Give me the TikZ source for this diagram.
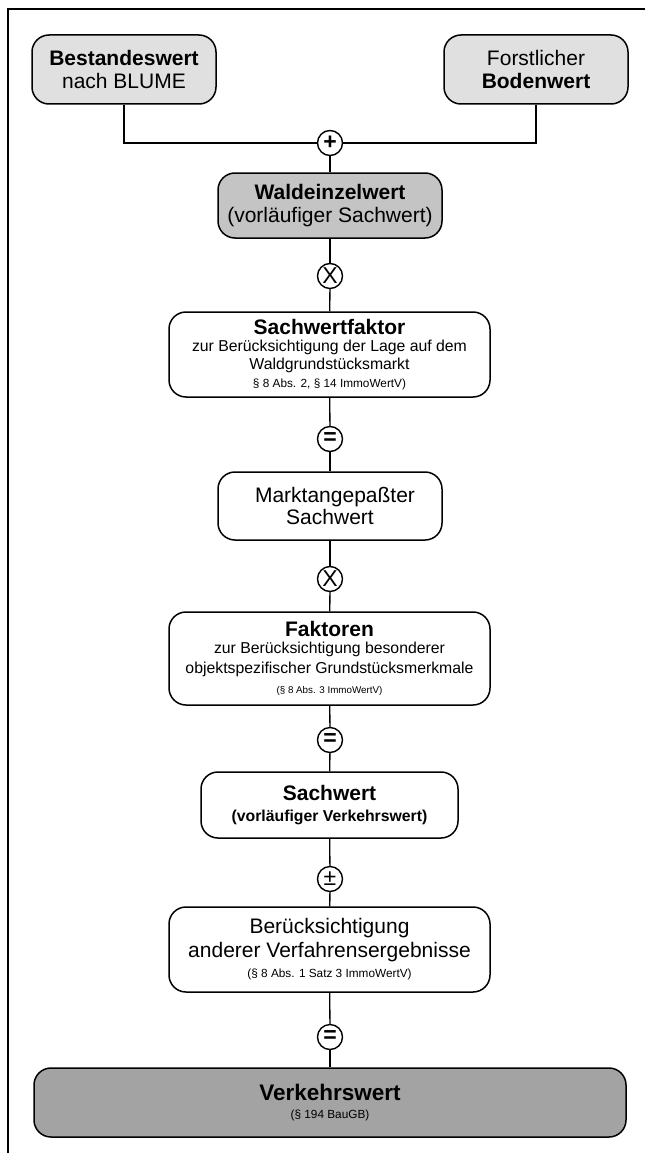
\documentclass[tikz,border=0pt]{standalone}
\usepackage{fontspec}
\setmainfont{Liberation Sans}
\newcommand\fT{\fontsize{21}{24}\selectfont}
\newcommand\fS{\fontsize{15.8}{17.5}\selectfont}
\newcommand\fX{\fontsize{11.8}{14}\selectfont}
\newcommand\fY{\fontsize{9.8}{12}\selectfont}
\definecolor{gLight}{HTML}{E0E0E0}
\definecolor{gMid}{HTML}{C4C4C4}
\definecolor{gDark}{HTML}{A3A3A3}
\tikzset{
  box/.style={draw, line width=1.5pt, rounded corners=17pt, align=center, inner sep=0pt, fill=white},
  opc/.style={draw, circle, line width=1.4pt, fill=white, inner sep=0pt, minimum size=25pt, font=\fontsize{23}{23}\selectfont\bfseries},
  conn/.style={line width=1.3pt},
}
\begin{document}
\begin{tikzpicture}[x=1pt,y=-1pt]
\useasboundingbox (0,0) rectangle (645,1153);
\draw[line width=1.2pt] (645,9) -- (8,9) -- (8,1153);

\node[box, fill=gLight, minimum width=184pt, minimum height=69pt, font=\fT] (b1) at (124,69.5)
  {{\bfseries Bestandeswert}\\[-1.5pt]nach BLUME};
\node[box, fill=gLight, minimum width=184pt, minimum height=69pt, font=\fT] (b2) at (536,69.5)
  {Forstlicher\\[-1.5pt]{\bfseries Bodenwert}};
\node[opc] (o1) at (330,143) {+};
\node[box, fill=gMid, minimum width=224pt, minimum height=65pt, font=\fT] (b3) at (330,205.5)
  {{\bfseries Waldeinzelwert}\\[-1.5pt](vorläufiger Sachwert)};
\node[opc] (o2) at (330,276) {\mdseries X};
\node[box, minimum width=321pt, minimum height=85pt, font=\fS] (b4) at (329.5,354.5)
  {{\fT\bfseries Sachwertfaktor}\\[0pt]zur Berücksichtigung der Lage auf dem\\[0.5pt]Waldgrundstücksmarkt\\[0pt]{\fX § 8 Abs. 2, § 14 ImmoWertV)}};
\node[opc] (o3) at (330,439) {=};
\node[box, minimum width=224pt, minimum height=68pt, font=\fT] (b5) at (330,506)
  {\hspace*{10pt}Marktangepaßter\\[-1.5pt]Sachwert};
\node[opc] (o4) at (330,579) {\mdseries X};
\node[box, minimum width=321pt, minimum height=93pt, font=\fS] (b6) at (329.5,658.5)
  {{\fT\bfseries Faktoren}\\[0pt]zur Berücksichtigung besonderer\\[2pt]objektspezifischer Grundstücksmerkmale\\[3pt]{\fY (§ 8 Abs. 3 ImmoWertV)}};
\node[opc] (o5) at (330,740) {=};
\node[box, minimum width=257pt, minimum height=66pt, font=\fT] (b7) at (329.5,805)
  {{\bfseries Sachwert}\\[-3pt]{\fS\bfseries (vorläufiger Verkehrswert)}};
\node[opc] (o6) at (330,879) {\mdseries ±};
\node[box, minimum width=321pt, minimum height=85pt, font=\fT] (b8) at (329.5,949.5)
  {Berücksichtigung\\[0pt]anderer Verfahrensergebnisse\\[-4pt]{\fX (§ 8 Abs. 1 Satz 3 ImmoWertV)}};
\node[opc] (o7) at (330,1037) {=};
\node[box, fill=gDark, minimum width=592pt, minimum height=69pt, font=\fT] (b9) at (330,1102.5)
  {{\fontsize{22.5}{24}\selectfont\bfseries Verkehrswert}\\[-6pt]{\fX (§ 194 BauGB)}};

\draw[conn] (b1.south) |- (o1.west);
\draw[conn] (b2.south) |- (o1.east);
\draw[conn] (o1) -- (b3);
\draw[conn] (b3) -- (o2);
\draw[conn] (o2) -- (b4);
\draw[conn] (b4) -- (o3);
\draw[conn] (o3) -- (b5);
\draw[conn] (b5) -- (o4);
\draw[conn] (o4) -- (b6);
\draw[conn] (b6) -- (o5);
\draw[conn] (o5) -- (b7);
\draw[conn] (b7) -- (o6);
\draw[conn] (o6) -- (b8);
\draw[conn] (b8) -- (o7);
\draw[conn] (o7) -- (b9);
\end{tikzpicture}
\end{document}
